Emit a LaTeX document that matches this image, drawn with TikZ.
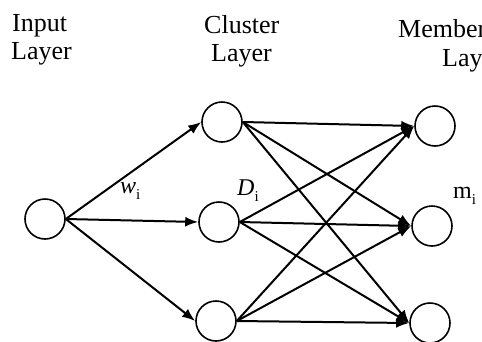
\documentclass[tikz,border=0pt]{standalone}
\usepackage{fontspec}
\setmainfont{Liberation Serif}
\usetikzlibrary{arrows.meta}

\tikzset{
  neuron/.style={circle, draw, line width=1.6pt, minimum size=40pt, inner sep=0pt},
  link/.style={line width=2pt, -{Latex[length=13pt,width=10pt]}},
  heading/.style={anchor=base west, inner sep=0pt, font=\fontsize{26}{28}\selectfont},
  weight/.style={anchor=base west, inner sep=0pt, font=\fontsize{24}{26}\selectfont}
}
\newcommand{\lowi}{\raisebox{-0.28em}{\fontsize{15}{15}\selectfont i}}

\begin{document}
\begin{tikzpicture}[x=1pt, y=-1pt]
  \clip (0,0) rectangle (482,341);

  % layer headings
  \node[heading] (hin1) at (12,31) {Input};
  \node[heading] (hin2) at (11,59) {Layer};
  \node[heading] (hcl1) at (204,33) {Cluster};
  \node[heading] (hcl2) at (211,61) {Layer};
  \node[heading] (hme1) at (398,37) {Member};
  \node[heading] (hme2) at (442,66) {Layer};

  % neurons
  \node[neuron] (in) at (45,219) {};
  \node[neuron] (c1) at (222,122) {};
  \node[neuron] (c2) at (219,222) {};
  \node[neuron] (c3) at (216,321) {};
  \node[neuron] (m1) at (435,126) {};
  \node[neuron] (m2) at (432,226) {};
  \node[neuron] (m3) at (430,323) {};

  % input -> cluster
  \foreach \c in {c1,c2,c3}
    \draw[link] (in.east) -- (\c.west);

  % cluster -> membership (fully connected)
  \foreach \c in {c1,c2,c3}
    \foreach \m in {m1,m2,m3}
      \draw[link] (\c.east) -- (\m.west);

  % weight / quantity labels
  \node[weight] (lw) at (120,193) {\textit{w}\lowi};
  \node[weight] (ld) at (237,195) {\textit{D}\lowi};
  \node[weight] (lm) at (453,198) {m\lowi};
\end{tikzpicture}
\end{document}
